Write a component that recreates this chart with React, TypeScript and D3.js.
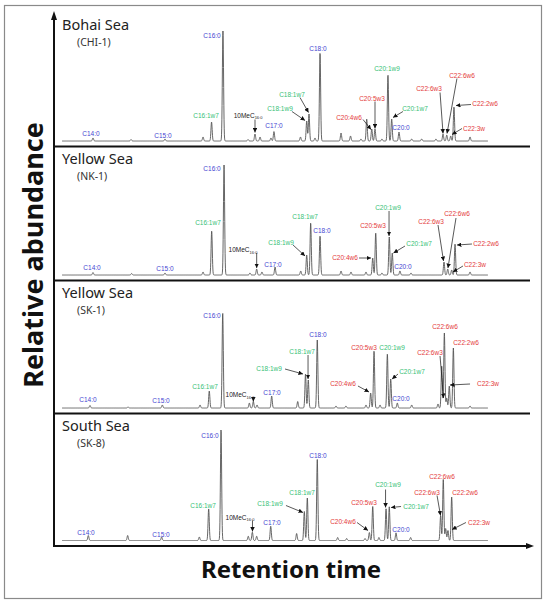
import React from "react";
import * as d3 from "d3";

// ---------- DATA ----------
const PANEL_TITLES = ["Bohai Sea", "Yellow Sea", "Yellow Sea", "South Sea"];
const PANEL_SITES = ["(CHI-1)", "(NK-1)", "(SK-1)", "(SK-8)"];

// retention time (min) and peak height (relative abundance units)
const CHI1_RT = [3.25, 6.42, 9.25, 12.42, 13.13, 14.08, 16.17, 16.75, 17.17, 18.08, 18.33, 20.54, 21.06, 21.25, 21.75, 22.17, 23.92, 24.71, 25.58, 26.06, 26.48, 26.75, 27.33, 27.83, 28.14, 28.75, 29.81, 30.64, 31.83, 32.42, 32.73, 33.06, 33.33, 34.67];
const CHI1_H = [3, 1.5, 2, 4, 19, 110, 1.5, 7, 4, 3, 9.5, 4, 20, 27, 3, 88, 8, 5, 2, 22, 12, 12, 2, 66, 22, 9, 2, 2, 2, 7, 6, 5, 34, 4];

const NK1_RT = [3.25, 6.47, 9.25, 12.42, 13.14, 14.17, 16.33, 16.89, 17.33, 18.42, 20.56, 21.06, 21.39, 22.17, 23.92, 24.75, 26.0, 26.56, 26.81, 27.33, 27.94, 28.19, 28.83, 29.75, 32.5, 32.81, 33.14, 33.42, 34.67];
const NK1_H = [2.5, 1.5, 2, 3, 44, 110, 2, 6, 3, 8, 4, 20, 52, 39, 4, 3, 3, 17, 42, 2, 38, 22, 4, 2, 13, 6, 5, 31, 3];

const SK1_RT = [3.0, 6.17, 9.03, 12.17, 12.94, 14.06, 16.28, 16.61, 16.92, 18.14, 20.31, 20.96, 21.19, 21.94, 23.5, 24.33, 26.0, 26.39, 26.67, 27.17, 27.78, 28.06, 28.61, 29.81, 32.0, 32.31, 32.53, 32.73, 32.94, 33.28, 34.67];
const SK1_H = [2.5, 1, 3, 3, 17, 95, 5, 6.5, 3, 12, 6.5, 34, 28, 68, 2, 2, 3, 15, 57, 3, 54, 29, 5, 3, 4, 42, 75, 10, 22, 60, 2];

const SK8_RT = [2.86, 6.14, 8.97, 12.11, 12.89, 13.92, 16.19, 16.53, 16.89, 18.06, 20.22, 20.86, 21.11, 21.94, 23.64, 24.39, 25.92, 26.28, 26.56, 27.08, 27.67, 27.94, 28.5, 29.72, 32.22, 32.44, 32.64, 32.83, 33.14];
const SK8_H = [5, 5, 3.5, 3.5, 31.7, 111, 4.3, 8.3, 4.3, 14.3, 7, 29, 42.7, 81, 3, 2, 2, 8, 34, 3, 31.7, 33.7, 7.7, 3, 25, 61, 12, 10, 43.7];

// peak labels: name, label anchor (rt, height)
const CHI1_LABELS = ["C14:0", "C15:0", "C16:1w7", "C16:0", "10MeC", "C17:0", "C18:1w9", "C18:1w7", "C18:0", "C20:4w6", "C20:5w3", "C20:1w9", "C20:1w7", "C20:0", "C22:6w3", "C22:6w6", "C22:2w6", "C22:3w"];
const CHI1_LABEL_RT = [3.08, 9.08, 12.67, 13.17, 16.17, 18.33, 18.83, 19.83, 22.0, 24.58, 26.5, 27.75, 30.08, 28.92, 31.25, 34.0, 35.92, 35.0];
const CHI1_LABEL_H = [7.5, 5.5, 25.5, 105.5, 25.5, 15.5, 32.5, 46.5, 92.5, 23.5, 42.5, 72.5, 32.5, 13.5, 52.5, 65.5, 37.5, 12.5];
const CHI1_ARROWS = [
  [16.75, 21.5, 16.75, 8.5], [19.83, 29.5, 20.92, 20.5], [20.5, 43.5, 21.21, 28.5],
  [25.75, 21.5, 26.42, 11.5], [26.75, 39.5, 26.75, 12.5], [29.08, 29.5, 28.25, 23.5],
  [32.17, 48.5, 32.42, 7.5], [33.58, 62.5, 32.75, 7.5], [34.75, 36.5, 33.5, 35.5], [34.0, 12.5, 33.17, 6.5],
];

const NK1_LABELS = CHI1_LABELS;
const NK1_LABEL_RT = [3.17, 9.25, 12.83, 13.17, 15.75, 18.25, 18.92, 20.92, 22.33, 24.25, 26.58, 27.83, 30.42, 29.08, 31.42, 33.58, 36.0, 35.08];
const NK1_LABEL_H = [7, 6, 52, 106, 25, 10, 32, 58, 44, 17, 49, 67, 31, 8, 53, 61, 31, 10];
const NK1_ARROWS = [
  [16.89, 22, 16.89, 7], [19.92, 30, 20.92, 19], [25.42, 17, 26.42, 17], [27.92, 64, 27.92, 39],
  [29.25, 29, 28.29, 22], [32.0, 50, 32.46, 14], [33.5, 57, 32.83, 7], [34.83, 31, 33.58, 30], [34.08, 9, 33.25, 3],
];

const SK1_LABELS = CHI1_LABELS;
const SK1_LABEL_RT = [2.83, 8.92, 12.58, 13.17, 15.5, 18.17, 17.92, 20.67, 22.0, 24.08, 25.83, 28.17, 29.83, 28.92, 31.33, 32.58, 34.33, 36.17];
const SK1_LABEL_H = [8, 7, 21, 92, 13, 15, 39, 56, 73, 24, 60, 60, 36, 9, 55, 81, 65, 24];
const SK1_ARROWS = [
  [16.61, 11, 16.61, 6.5], [19.25, 39, 20.75, 34], [21.17, 53, 21.17, 29], [25.33, 22, 26.25, 16],
  [28.67, 34, 28.17, 29], [32.17, 52, 32.46, 10], [34.67, 24, 33.0, 23],
];

const SK8_LABELS = CHI1_LABELS;
const SK8_LABEL_RT = [2.67, 8.92, 12.42, 13.0, 15.5, 18.17, 18.0, 20.67, 22.0, 24.08, 25.83, 27.83, 30.17, 28.92, 31.08, 32.33, 34.25, 35.42];
const SK8_LABEL_H = [8, 6, 35, 105, 23, 18, 37, 48, 85, 19, 38, 56, 34, 11, 48, 64, 48, 18];
const SK8_ARROWS = [
  [16.54, 20, 16.54, 9], [19.33, 35, 20.75, 28], [25.25, 18, 26.17, 10], [27.63, 51, 27.63, 33],
  [28.92, 34, 28.08, 33], [31.92, 45, 32.21, 25], [34.33, 18, 33.17, 11],
];

const RT_DOMAIN = [0, 40];
const TRACE_RANGE = [0.67, 36.17];

const PANELS = [
  { rt: CHI1_RT, h: CHI1_H, labels: CHI1_LABELS, lrt: CHI1_LABEL_RT, lh: CHI1_LABEL_H, arrows: CHI1_ARROWS },
  { rt: NK1_RT, h: NK1_H, labels: NK1_LABELS, lrt: NK1_LABEL_RT, lh: NK1_LABEL_H, arrows: NK1_ARROWS },
  { rt: SK1_RT, h: SK1_H, labels: SK1_LABELS, lrt: SK1_LABEL_RT, lh: SK1_LABEL_H, arrows: SK1_ARROWS },
  { rt: SK8_RT, h: SK8_H, labels: SK8_LABELS, lrt: SK8_LABEL_RT, lh: SK8_LABEL_H, arrows: SK8_ARROWS },
];

// ---------- LAYOUT ----------
const W = 550, H = 607;
const AXIS_X = 54;
const X_END = 534;
const PANEL_TOPS = [13, 146.5, 280.5, 413.5];
const PANEL_BOTTOMS = [146.5, 280.5, 413.5, 546];

const BLUE = "#4646d2";
const GREEN = "#38bf78";
const RED = "#e43c3c";

function labelColor(name: string) {
  if (name.startsWith("10Me")) return "#222";
  if (/:0$/.test(name)) return BLUE;
  if (/:1w/.test(name)) return GREEN;
  return RED;
}

const SIGMA = 0.05;

function tracePoints(rts: number[], hs: number[]) {
  const pts: [number, number][] = [];
  const step = 0.015;
  for (let t = TRACE_RANGE[0]; t <= TRACE_RANGE[1]; t += step) {
    let v = 0;
    for (let i = 0; i < rts.length; i++) {
      const d = (t - rts[i]) / SIGMA;
      if (Math.abs(d) < 6) v += hs[i] * Math.exp(-0.5 * d * d);
    }
    pts.push([t, v]);
  }
  return pts;
}

export default function App() {
  const x = d3.scaleLinear().domain(RT_DOMAIN).range([AXIS_X, X_END]);
  const font = "'Noto Sans', 'Open Sans', sans-serif";
  const labelFont = "'Liberation Sans', Arial, sans-serif";

  return (
    <svg width={W} height={H} style={{ position: "absolute", left: 0, top: 0, background: "#fff" }}>
      <defs>
        <marker id="ah" viewBox="0 0 10 10" refX="10" refY="5" markerWidth="4.5" markerHeight="4.5" markerUnits="userSpaceOnUse" orient="auto">
          <path d="M0,0L10,5L0,10z" fill="#111" />
        </marker>
      </defs>
      <rect x={4.5} y={5.5} width={537} height={593} fill="none" stroke="#8a8a8a" strokeWidth={1.2} />

      {PANELS.map((p, pi) => {
        const base = PANEL_BOTTOMS[pi] - 5.5;
        const y = d3.scaleLinear().domain([0, 110]).range([base, base - 110]);
        const line = d3.line<[number, number]>().x((d) => x(d[0])).y((d) => y(d[1]));
        const top = PANEL_TOPS[pi];
        return (
          <g key={pi}>
            <path d={line(tracePoints(p.rt, p.h)) || ""} fill="none" stroke="#555" strokeWidth={0.9} />
            <text x={62} y={top + 17} fontFamily={font} fontSize={14.5} fill="#222">{PANEL_TITLES[pi]}</text>
            <text x={77} y={top + 33} fontFamily={font} fontSize={10.5} fill="#333">{PANEL_SITES[pi]}</text>
            {p.arrows.map((a, ai) => (
              <line key={ai} x1={x(a[0])} y1={y(a[1])} x2={x(a[2])} y2={y(a[3])} stroke="#111" strokeWidth={0.7} markerEnd="url(#ah)" />
            ))}
            {p.labels.map((name, li) => {
              const cx = x(p.lrt[li]);
              const cy = y(p.lh[li]);
              if (name === "10MeC") {
                return (
                  <text key={li} x={cx} y={cy} dy="0.35em" textAnchor="middle" fontFamily={labelFont} fontSize={6.5} fill="#222">
                    10MeC<tspan fontSize={4} dy="1.5">16:0</tspan>
                  </text>
                );
              }
              return (
                <text key={li} x={cx} y={cy} dy="0.35em" textAnchor="middle" fontFamily={labelFont} fontSize={6.5} fill={labelColor(name)}>
                  {name}
                </text>
              );
            })}
            {pi < 3 && (
              <line x1={AXIS_X} x2={530} y1={PANEL_BOTTOMS[pi]} y2={PANEL_BOTTOMS[pi]} stroke="#111" strokeWidth={2} />
            )}
          </g>
        );
      })}

      {/* axes */}
      <line x1={AXIS_X} y1={547} x2={AXIS_X} y2={18} stroke="#111" strokeWidth={2} />
      <path d={`M${AXIS_X - 3},${20} L${AXIS_X},${11} L${AXIS_X + 3},${20} Z`} fill="#111" />
      <line x1={AXIS_X - 1} y1={546} x2={X_END - 6} y2={546} stroke="#111" strokeWidth={2} />
      <path d={`M${X_END - 8},${543} L${X_END},${546} L${X_END - 8},${549} Z`} fill="#111" />

      <text transform={`translate(43,255) rotate(-90)`} textAnchor="middle" fontFamily={font} fontWeight="bold" fontSize={27} fill="#111">
        Relative abundance
      </text>
      <text x={291} y={578} textAnchor="middle" fontFamily={font} fontWeight="bold" fontSize={24} fill="#111">
        Retention time
      </text>
    </svg>
  );
}
